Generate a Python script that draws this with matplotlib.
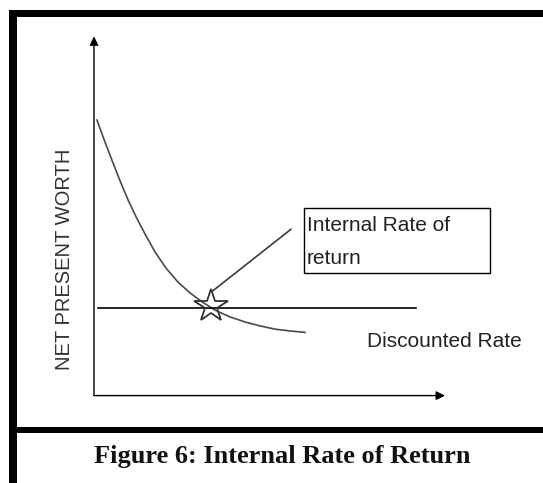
import numpy as np
import matplotlib
matplotlib.use("Agg")
import matplotlib.pyplot as plt
from matplotlib.patches import Rectangle

# data (axis units: 0..100 both ways)
rate = [0.85, 3.13, 5.41, 7.41, 9.69, 11.97, 14.53, 17.38, 20.51, 23.93,
        27.35, 30.77, 34.47, 38.75, 43.02, 47.29, 51.57, 55.84, 60.11]
npw = [76.7, 70.6, 64.8, 59.8, 54.5, 49.8, 45.0, 40.0, 35.5, 31.6,
       28.6, 26.1, 23.8, 21.9, 20.5, 19.4, 18.5, 18.0, 17.6]
disc_x = [1.0, 91.6]
disc_y = [24.5, 24.5]
irr_x, irr_y = 33.3, 24.9
leader_x = [33.9, 56.1]
leader_y = [29.2, 46.3]

ylabel = "NET PRESENT WORTH"
box_lines = ["Internal Rate of", "return"]
disc_label = "Discounted Rate"
caption = "Figure 6: Internal Rate of Return"

W, H = 543, 483
fig = plt.figure(figsize=(W / 100, H / 100), dpi=100)
fig.patch.set_facecolor("white")

def fx(px):
    return px / W

def fy(py):
    return 1 - py / H

# frame lines of the scanned page
fig.add_artist(Rectangle((fx(8.7), fy(17.0)), 1, 7.5 / H, transform=fig.transFigure,
                         color="black", lw=0))
fig.add_artist(Rectangle((fx(8.7), 0), 7.9 / W, fy(9.5), transform=fig.transFigure,
                         color="black", lw=0))
fig.add_artist(Rectangle((fx(8.7), fy(433.0)), 1, 6.0 / H, transform=fig.transFigure,
                         color="black", lw=0))

ax = fig.add_axes([fx(94), fy(395.6), fx(445) - fx(94), fy(36.4) - fy(395.6)])
ax.set_xlim(0, 100)
ax.set_ylim(0, 100)
for s in ax.spines.values():
    s.set_visible(False)
ax.set_xticks([])
ax.set_yticks([])
ax.patch.set_alpha(0)

# axes with arrow heads
arr = dict(arrowstyle="-|>", color="black", lw=1.0, mutation_scale=13,
           shrinkA=0, shrinkB=0)
ax.annotate("", xy=(0, 1), xytext=(0, 0), xycoords="axes fraction", arrowprops=arr)
ax.annotate("", xy=(1, 0), xytext=(0, 0), xycoords="axes fraction", arrowprops=arr)

ax.plot(rate, npw, color="#4a4a4a", lw=1.2, solid_joinstyle="round")
ax.plot(disc_x, disc_y, color="black", lw=1.2)
ax.plot(leader_x, leader_y, color="#3a3a3a", lw=1.2)
ax.plot([irr_x], [irr_y], marker="*", markersize=25, markerfacecolor="none",
        markeredgecolor="#333333", markeredgewidth=1.3)

# annotation box
ax.add_patch(Rectangle((59.8, 34.2), 53.0, 18.1, fill=False, edgecolor="black",
                       lw=1.0, clip_on=False))
font = dict(family="Liberation Sans", fontsize=15, color="#222222")
ax.text(60.6, 45.8, box_lines[0], va="baseline", ha="left", **font)
ax.text(60.6, 36.6, box_lines[1], va="baseline", ha="left", **font)
ax.text(77.9, 13.5, disc_label, va="baseline", ha="left", **font)

ax.text(-0.085, 0.38, ylabel, transform=ax.transAxes, rotation=90,
        ha="center", va="center", family="Liberation Sans", fontsize=14.5,
        color="#333333")

fig.text(fx(282), fy(463), caption, ha="center", va="baseline",
         family="Liberation Serif", fontweight="bold", fontsize=19, color="#111111")

fig.savefig("out.png", dpi=100, facecolor="white")
